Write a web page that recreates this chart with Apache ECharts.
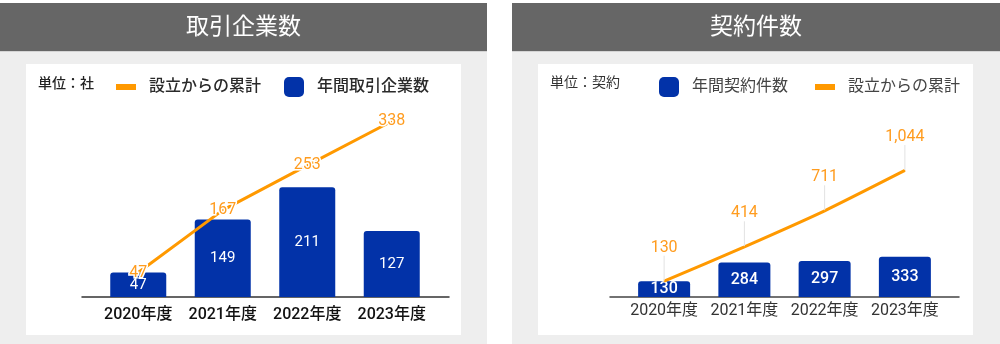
<!DOCTYPE html>
<html>
<head>
<meta charset="utf-8">
<script src="https://cdn.jsdelivr.net/npm/echarts@6/dist/echarts.min.js"></script>
<style>
  html, body { margin: 0; padding: 0; background: #ffffff; }
  #chart { width: 1000px; height: 344px; }
</style>
</head>
<body>
<div id="chart"></div>
<script>
// Fiscal years shown on both panels
const years = ['2020年度', '2021年度', '2022年度', '2023年度'];

// Left panel: client companies (unit: companies)
const companiesPerYear = [47, 149, 211, 127];
const companiesCumulative = [47, 167, 253, 338];

// Right panel: contracts (unit: contracts)
const contractsPerYear = [130, 284, 297, 333];
const contractsCumulative = [130, 414, 711, 1044];

// Panel texts
const leftTitle = '取引企業数';
const rightTitle = '契約件数';
const leftUnit = '単位：社';
const rightUnit = '単位：契約';
const nameCumulative = '設立からの累計';
const nameCompanies = '年間取引企業数';
const nameContracts = '年間契約件数';

const FONT = 'Roboto, "Noto Sans CJK JP", sans-serif';
const BLUE = '#0232a8';
const ORANGE = '#ff9900';
const ORANGE_TEXT = '#ff9c1f';

const chart = echarts.init(document.getElementById('chart'), null, { renderer: 'canvas' });

function panel(x, w, cardX, cardW, title) {
  return [
    { type: 'rect', z: -10, shape: { x: x, y: 3, width: w, height: 341 }, style: { fill: '#eeeeee' } },
    { type: 'rect', z: -9, shape: { x: x, y: 3, width: w, height: 48 }, style: { fill: '#666666' } },
    { type: 'rect', z: -9, shape: { x: x, y: 51, width: w, height: 1 }, style: { fill: '#d4d4d4' } },
    { type: 'rect', z: -9, shape: { x: cardX, y: 64, width: cardW, height: 271 }, style: { fill: '#ffffff' } },
    { type: 'text', z: 5, x: x + w / 2, y: 28,
      style: { text: title, fill: '#ffffff', font: '23px ' + FONT, align: 'center', verticalAlign: 'middle' } }
  ];
}

const option = {
  animation: false,
  textStyle: { fontFamily: FONT },
  graphic: {
    elements: [
      ...panel(0, 487, 26, 435, leftTitle),
      ...panel(512, 488, 538, 435, rightTitle),
      { type: 'text', z: 5, x: 38, y: 84,
        style: { text: leftUnit, fill: '#222222', font: '500 14px ' + FONT, verticalAlign: 'middle' } },
      { type: 'text', z: 5, x: 550, y: 83,
        style: { text: rightUnit, fill: '#333333', font: '14px ' + FONT, verticalAlign: 'middle' } }
    ]
  },
  legend: [
    { left: 116, top: 79, padding: 0, itemWidth: 20, itemHeight: 6, icon: 'rect',
      data: [{ name: nameCumulative, itemStyle: { color: ORANGE } }],
      textStyle: { fontSize: 16, color: '#2a2a2a', fontWeight: 500, padding: [0, 0, 0, 8] } },
    { left: 284, top: 77, padding: 0, itemWidth: 20, itemHeight: 20, icon: 'roundRect',
      data: [nameCompanies],
      textStyle: { fontSize: 16, color: '#2a2a2a', fontWeight: 500, padding: [0, 0, 0, 8] } },
    { left: 659, top: 77, padding: 0, itemWidth: 20, itemHeight: 20, icon: 'roundRect',
      data: [nameContracts],
      textStyle: { fontSize: 16, color: '#444444', padding: [0, 0, 0, 8] } },
    { left: 815, top: 79, padding: 0, itemWidth: 20, itemHeight: 6, icon: 'rect',
      data: [{ name: nameCumulative, itemStyle: { color: ORANGE } }],
      textStyle: { fontSize: 16, color: '#444444', padding: [0, 0, 0, 8] } }
  ],
  grid: [
    // data grids
    { left: 96, top: 89, width: 338, height: 208 },
    { left: 624, top: 97, width: 321, height: 200 },
    // baseline grids (axis line spans wider than the bars)
    { left: 82, top: 89, width: 367, height: 208 },
    { left: 610, top: 97, width: 349, height: 200 }
  ],
  xAxis: [
    { type: 'category', gridIndex: 0, data: years,
      axisLine: { show: false }, axisTick: { show: false },
      axisLabel: { interval: 0, margin: 10, fontSize: 16, fontWeight: 500, color: '#111111', fontFamily: FONT } },
    { type: 'category', gridIndex: 1, data: years,
      axisLine: { show: false }, axisTick: { show: false },
      axisLabel: { interval: 0, margin: 6, fontSize: 16, color: '#333333', fontFamily: FONT } },
    { type: 'value', gridIndex: 2, min: 0, max: 1,
      axisLine: { show: true, lineStyle: { color: '#333333', width: 1.5 } },
      axisTick: { show: false }, axisLabel: { show: false }, splitLine: { show: false } },
    { type: 'value', gridIndex: 3, min: 0, max: 1,
      axisLine: { show: true, lineStyle: { color: '#444444', width: 1.5 } },
      axisTick: { show: false }, axisLabel: { show: false }, splitLine: { show: false } }
  ],
  yAxis: [
    { type: 'value', gridIndex: 0, min: 0, max: 400, show: false },
    { type: 'value', gridIndex: 1, min: 0, max: 1650, show: false },
    { type: 'value', gridIndex: 2, min: 0, max: 1, show: false },
    { type: 'value', gridIndex: 3, min: 0, max: 1, show: false }
  ],
  series: [
    {
      name: nameCompanies, type: 'bar', xAxisIndex: 0, yAxisIndex: 0,
      data: companiesPerYear, barWidth: 56,
      itemStyle: { color: BLUE, borderRadius: [3, 3, 0, 0] },
      label: { show: true, position: 'inside', color: '#ffffff', fontSize: 15, fontFamily: FONT }
    },
    {
      name: nameCumulative, type: 'line', xAxisIndex: 0, yAxisIndex: 0,
      data: companiesCumulative, z: 5,
      symbol: 'circle', symbolSize: 1,
      lineStyle: { color: ORANGE, width: 3 },
      itemStyle: { color: ORANGE },
      label: { show: true, position: 'inside', color: ORANGE_TEXT, fontSize: 16, fontFamily: FONT,
               textBorderColor: '#ffffff', textBorderWidth: 3 }
    },
    {
      name: nameContracts, type: 'bar', xAxisIndex: 1, yAxisIndex: 1,
      data: contractsPerYear, barWidth: 52,
      itemStyle: { color: BLUE, borderRadius: [3, 3, 0, 0] },
      label: { show: true, position: 'inside', color: '#ffffff', fontSize: 16, fontWeight: 500, fontFamily: FONT }
    },
    {
      name: nameCumulative, type: 'line', xAxisIndex: 1, yAxisIndex: 1,
      data: contractsCumulative, z: 5, smooth: 0.2,
      symbol: 'circle', symbolSize: 1,
      lineStyle: { color: ORANGE, width: 3 },
      itemStyle: { color: ORANGE },
      label: { show: true, position: 'top', distance: 5, color: ORANGE_TEXT, fontSize: 16, fontFamily: FONT,
               formatter: p => p.value.toLocaleString('en-US') },
      labelLayout: { dy: -20 },
      labelLine: { show: true, lineStyle: { color: '#e2e2e2', width: 1 } }
    }
  ]
};

chart.setOption(option);
</script>
</body>
</html>
